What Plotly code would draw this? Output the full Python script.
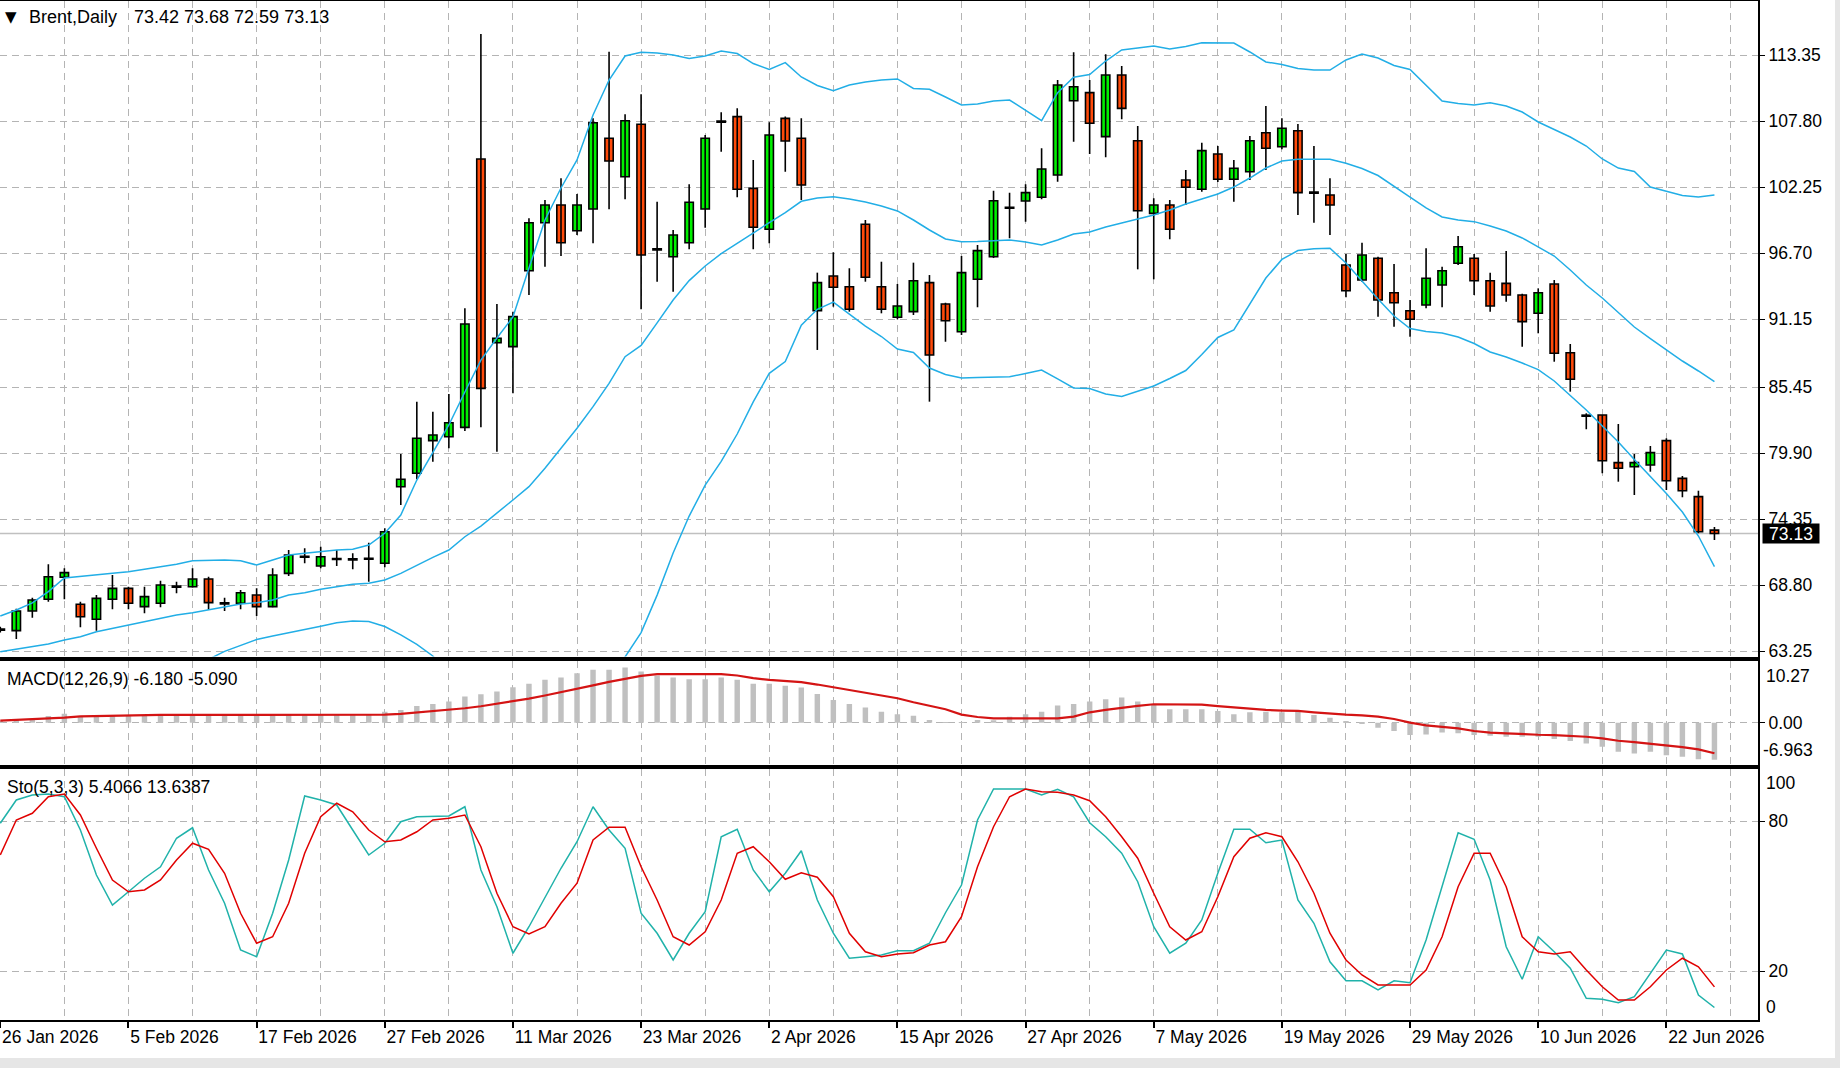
import plotly.graph_objects as go
import numpy as np

# ---------------- data ----------------
OPEN = [65.10, 64.96, 66.61, 67.60, 69.45, 67.18, 65.92, 67.60, 68.52, 66.98,
        67.26, 68.66, 68.66, 69.31, 67.26, 67.26, 67.96, 66.98, 69.78, 71.18,
        70.40, 70.99, 70.96, 71.01, 70.63, 77.07, 78.20, 80.94, 81.27, 82.06,
        104.63, 89.18, 88.85, 95.23, 99.27, 100.76, 98.60, 100.42, 106.37, 103.14,
        107.55, 97.03, 96.41, 97.59, 100.42, 107.77, 108.19, 102.16, 98.72, 108.05,
        106.37, 91.87, 94.79, 93.89, 99.14, 93.89, 91.32, 91.79, 94.23, 92.43,
        90.10, 94.51, 96.41, 100.53, 101.10, 101.41, 103.28, 109.53, 110.21, 106.51,
        111.69, 106.17, 100.06, 100.76, 102.86, 102.08, 105.05, 102.92, 103.56, 106.84,
        105.66, 107.01, 101.80, 101.60, 95.71, 94.45, 96.28, 93.38, 91.87, 92.35,
        94.03, 95.86, 96.28, 94.39, 94.17, 93.19, 91.65, 94.12, 88.34, 83.04,
        83.10, 79.09, 78.75, 78.89, 80.94, 77.77, 76.23, 73.42]
HIGH = [65.30, 66.80, 67.73, 70.54, 70.20, 67.40, 67.96, 69.64, 68.66, 68.66,
        69.16, 69.08, 70.20, 69.50, 67.73, 68.38, 68.52, 70.20, 71.74, 71.89,
        72.02, 71.74, 71.47, 72.36, 73.57, 79.82, 84.22, 83.38, 84.86, 92.07,
        115.14, 92.43, 91.79, 99.64, 101.18, 103.01, 101.69, 108.05, 113.65, 108.39,
        110.07, 101.04, 98.66, 102.50, 106.65, 108.56, 108.89, 104.55, 107.72, 108.20,
        108.05, 95.07, 96.78, 95.44, 99.50, 95.99, 94.12, 95.91, 94.87, 92.54,
        96.47, 97.40, 101.96, 101.80, 102.50, 105.53, 111.27, 113.60, 111.27, 113.44,
        112.45, 107.40, 101.32, 101.18, 103.70, 106.00, 105.72, 104.55, 106.56, 109.09,
        108.05, 107.57, 105.72, 103.00, 96.64, 97.59, 96.40, 95.80, 92.77, 97.12,
        95.57, 98.15, 96.64, 95.07, 96.90, 93.30, 93.75, 94.45, 89.07, 83.24,
        83.10, 82.34, 79.82, 80.49, 81.14, 77.97, 76.73, 73.68]
LOW = [64.80, 64.26, 66.05, 67.40, 67.60, 65.24, 64.96, 66.76, 66.76, 66.42,
       66.93, 68.10, 68.60, 66.70, 66.61, 66.76, 66.19, 66.93, 69.56, 70.63,
       70.20, 70.40, 70.12, 69.08, 70.29, 75.53, 77.69, 79.17, 80.30, 81.75,
       82.06, 80.01, 84.92, 93.19, 95.57, 96.47, 98.24, 97.54, 100.40, 101.24,
       91.99, 94.31, 93.47, 97.03, 98.85, 105.24, 101.41, 97.03, 97.54, 103.56,
       101.18, 88.57, 92.21, 91.79, 94.31, 91.65, 91.15, 91.51, 84.22, 89.26,
       89.83, 92.16, 96.30, 97.96, 99.36, 101.24, 102.72, 106.08, 105.05, 104.77,
       107.97, 95.35, 94.51, 97.88, 100.76, 101.88, 102.70, 101.04, 102.86, 103.70,
       105.44, 99.92, 99.27, 98.24, 93.00, 94.30, 91.37, 90.53, 89.68, 92.07,
       92.16, 95.71, 93.19, 91.79, 92.63, 88.84, 89.97, 87.58, 85.06, 81.90,
       78.20, 77.49, 76.37, 78.33, 76.79, 76.18, 73.15, 72.59]
CLOSE = [65.00, 66.61, 67.54, 69.50, 69.84, 66.13, 67.68, 68.52, 67.26, 67.82,
         68.80, 68.66, 69.31, 67.32, 67.26, 68.15, 66.98, 69.64, 71.32, 71.18,
         71.18, 70.99, 70.96, 71.01, 73.28, 77.69, 81.14, 81.42, 82.45, 90.75,
         85.34, 89.55, 91.37, 99.27, 100.76, 97.59, 100.76, 107.68, 104.46, 107.85,
         96.56, 97.03, 98.24, 100.99, 106.37, 107.77, 102.08, 98.89, 106.65, 106.14,
         102.44, 94.23, 93.84, 91.99, 94.68, 91.99, 92.27, 94.39, 88.15, 91.03,
         95.07, 96.92, 101.12, 100.53, 101.80, 103.79, 110.85, 110.71, 107.63, 111.69,
         108.89, 100.28, 100.76, 98.72, 102.25, 105.33, 102.92, 103.85, 106.17, 105.53,
         107.21, 101.80, 101.80, 100.76, 93.55, 96.56, 92.77, 92.54, 91.15, 94.60,
         95.23, 97.25, 94.39, 92.27, 93.19, 90.95, 93.38, 88.29, 86.10, 83.04,
         79.25, 78.62, 79.09, 79.93, 77.57, 76.73, 73.28, 73.13]

BB_UPPER = [66.19, 66.70, 67.29, 68.24, 69.39, 69.50, 69.64, 69.78, 69.92, 70.12,
            70.34, 70.54, 70.84, 70.90, 70.90, 70.84, 70.48, 70.90, 71.32, 71.47,
            71.60, 71.74, 71.80, 72.16, 73.15, 74.69, 77.63, 79.90, 82.26, 85.03,
            87.72, 89.57, 91.34, 95.46, 99.50, 102.19, 104.55, 108.33, 111.27, 113.29,
            113.60, 113.54, 113.38, 113.08, 113.29, 113.71, 113.50, 112.66, 112.17, 112.73,
            111.53, 110.81, 110.37, 110.85, 111.10, 111.27, 111.36, 110.56, 110.49, 109.84,
            109.17, 109.25, 109.51, 109.59, 108.75, 107.85, 110.21, 111.50, 111.74, 112.87,
            113.80, 113.96, 114.13, 113.88, 114.09, 114.41, 114.41, 114.38, 113.63, 112.79,
            112.58, 112.24, 112.11, 112.11, 112.96, 113.46, 113.12, 112.49, 112.16, 110.85,
            109.51, 109.30, 109.17, 109.36, 109.09, 108.58, 107.74, 107.11, 106.48, 105.72,
            104.63, 103.87, 103.58, 102.27, 101.94, 101.56, 101.43, 101.60]
BB_MIDDLE = [63.19, 63.39, 63.61, 63.84, 64.18, 64.45, 64.87, 65.16, 65.44, 65.71,
             66.00, 66.28, 66.47, 66.70, 66.93, 67.20, 67.31, 67.54, 67.96, 68.15,
             68.44, 68.66, 68.86, 68.94, 69.22, 69.78, 70.48, 71.13, 71.74, 72.86,
             73.76, 74.83, 75.95, 77.07, 78.62, 80.30, 81.98, 83.80, 85.76, 88.00,
             88.95, 90.85, 92.77, 94.40, 95.63, 96.67, 97.55, 98.41, 99.27, 100.11,
             101.07, 101.35, 101.46, 101.27, 101.01, 100.68, 100.26, 99.50, 98.66, 97.90,
             97.67, 97.69, 97.73, 97.82, 97.65, 97.40, 97.82, 98.32, 98.49, 98.91,
             99.25, 99.58, 99.92, 100.34, 100.85, 101.27, 101.69, 102.27, 103.03, 103.87,
             104.46, 104.60, 104.60, 104.60, 104.27, 103.83, 103.24, 102.36, 101.43, 100.51,
             99.75, 99.50, 99.36, 99.00, 98.57, 97.99, 97.25, 96.47, 95.29, 94.03,
             92.94, 91.68, 90.50, 89.53, 88.57, 87.64, 86.80, 85.90]
BB_LOWER = [60.19, 60.08, 59.93, 59.44, 58.97, 59.40, 60.10, 60.54, 60.96, 61.30,
            61.66, 62.02, 62.10, 62.55, 63.22, 63.73, 64.21, 64.51, 64.77, 65.06,
            65.33, 65.62, 65.77, 65.73, 65.31, 64.60, 63.80, 62.83, 61.22, 60.69,
            59.80, 60.09, 60.56, 58.68, 57.74, 58.41, 59.41, 59.27, 60.25, 62.75,
            64.80, 67.95, 71.50, 74.60, 77.20, 79.20, 81.50, 84.20, 86.60, 87.60,
            90.65, 91.99, 92.60, 91.59, 90.58, 89.70, 88.65, 88.36, 87.05, 86.50,
            86.21, 86.25, 86.29, 86.32, 86.59, 86.88, 86.13, 85.37, 85.33, 84.87,
            84.65, 85.07, 85.54, 86.17, 86.84, 88.19, 89.62, 90.25, 92.43, 94.62,
            96.18, 96.93, 97.08, 97.12, 95.88, 94.33, 92.85, 91.42, 90.37, 90.12,
            89.99, 89.66, 89.11, 88.40, 87.98, 87.47, 86.91, 85.96, 84.70, 83.52,
            82.17, 80.83, 79.36, 77.93, 76.50, 74.94, 72.92, 70.34]

MACD_MAIN = [0.33, 0.56, 0.67, 1.11, 1.50, 1.11, 1.06, 1.17, 1.11, 1.11,
             1.17, 1.17, 1.28, 1.17, 1.11, 1.17, 1.11, 1.28, 1.39, 1.39,
             1.39, 1.34, 1.28, 1.34, 1.84, 2.12, 2.79, 3.12, 3.51, 4.35,
             4.74, 5.18, 5.91, 6.47, 7.13, 7.53, 8.25, 8.81, 8.81, 9.20,
             8.53, 7.86, 7.53, 7.25, 7.25, 7.53, 7.13, 6.47, 6.47, 6.13,
             5.85, 4.79, 3.79, 3.12, 2.51, 1.84, 1.39, 1.17, 0.45, 0.02,
             -0.05, 0.45, 0.40, 1.00, 1.39, 1.84, 2.84, 3.12, 3.51, 3.90,
             4.18, 3.51, 3.12, 2.23, 2.23, 2.23, 1.95, 1.39, 1.73, 1.84,
             1.73, 1.95, 1.28, 0.84, 0.28, -0.11, -0.84, -1.39, -2.06, -1.95,
             -1.62, -1.78, -2.06, -2.17, -2.34, -2.34, -2.34, -2.73, -3.07, -3.46,
             -4.01, -4.85, -5.13, -4.85, -5.41, -5.69, -6.08, -6.180]
MACD_SIGNAL = [0.33, 0.45, 0.56, 0.67, 0.84, 1.06, 1.11, 1.23, 1.28, 1.28,
               1.29, 1.30, 1.30, 1.31, 1.30, 1.30, 1.30, 1.31, 1.31, 1.30,
               1.30, 1.31, 1.30, 1.30, 1.34, 1.45, 1.67, 1.84, 2.12, 2.40,
               2.73, 3.12, 3.51, 4.01, 4.52, 5.07, 5.57, 6.20, 6.80, 7.30,
               7.80, 8.08, 8.08, 8.08, 8.08, 8.08, 7.86, 7.41, 7.13, 6.97,
               6.74, 6.35, 5.91, 5.52, 5.07, 4.63, 4.07, 3.40, 2.84, 2.23,
               1.34, 0.95, 0.72, 0.72, 0.72, 0.72, 0.72, 1.00, 1.73, 2.12,
               2.51, 2.79, 3.07, 3.07, 3.07, 3.00, 2.75, 2.51, 2.29, 2.12,
               2.01, 1.95, 1.73, 1.51, 1.34, 1.23, 1.00, 0.61, 0.00, -0.45,
               -0.72, -0.95, -1.39, -1.67, -1.78, -1.95, -2.01, -2.06, -2.17, -2.34,
               -2.62, -3.01, -3.23, -3.51, -3.73, -4.07, -4.45, -5.090]

STO_K = [79.1, 88.4, 90.4, 90.8, 89.7, 76.4, 58.4, 46.4, 51.7, 57.1,
         61.7, 73.1, 77.3, 60.4, 47.1, 28.4, 25.7, 43.1, 64.4, 90.0,
         88.4, 86.4, 76.4, 66.4, 71.1, 79.7, 81.7, 81.7, 82.0, 85.7,
         60.4, 45.7, 27.1, 37.7, 49.7, 61.1, 71.7, 85.7, 76.4, 69.1,
         43.1, 35.1, 24.4, 35.1, 43.7, 73.7, 76.7, 60.4, 51.7, 59.1,
         68.1, 48.4, 35.1, 25.1, 25.7, 26.4, 28.1, 28.1, 31.1, 43.3,
         54.4, 80.4, 92.8, 92.8, 92.8, 90.4, 92.7, 89.7, 79.3, 73.7,
         67.1, 55.7, 37.7, 27.1, 31.1, 40.4, 59.1, 76.7, 76.7, 71.3,
         72.4, 48.4, 39.1, 23.7, 16.1, 16.1, 12.4, 16.1, 15.3, 32.4,
         53.7, 75.3, 72.7, 56.4, 29.7, 16.7, 33.7, 27.7, 21.1, 9.1,
         8.7, 7.3, 9.7, 19.1, 28.4, 26.8, 10.4, 5.4066]
STO_D = [66.4, 80.4, 83.1, 89.7, 90.8, 82.4, 69.1, 56.4, 51.7, 52.4,
         56.4, 64.4, 71.1, 68.7, 59.1, 43.1, 31.1, 33.7, 47.1, 67.1,
         81.7, 87.1, 83.7, 76.4, 71.7, 72.4, 75.7, 80.4, 81.1, 82.4,
         69.7, 51.1, 37.7, 34.8, 37.7, 47.1, 55.1, 72.4, 77.5, 77.5,
         61.7, 48.4, 33.7, 30.4, 35.7, 48.4, 67.1, 69.7, 63.7, 56.7,
         59.3, 57.5, 49.7, 35.1, 27.7, 25.7, 26.8, 27.3, 30.4, 31.7,
         41.7, 61.7, 77.7, 89.7, 92.8, 91.7, 91.5, 90.4, 88.1, 81.7,
         73.7, 65.1, 51.1, 37.7, 32.4, 35.7, 49.7, 65.7, 73.1, 75.3,
         73.7, 63.7, 51.1, 35.1, 24.4, 18.4, 14.4, 14.4, 14.4, 20.4,
         33.7, 53.7, 67.1, 67.1, 53.7, 33.7, 27.7, 26.8, 27.7, 20.4,
         13.7, 8.4, 8.4, 13.7, 20.4, 25.1, 21.7, 13.6387]

DATE_LABELS = ["26 Jan 2026", "5 Feb 2026", "17 Feb 2026", "27 Feb 2026", "11 Mar 2026",
               "23 Mar 2026", "2 Apr 2026", "15 Apr 2026", "27 Apr 2026", "7 May 2026",
               "19 May 2026", "29 May 2026", "10 Jun 2026", "22 Jun 2026"]
BARS_PER_LABEL = 8
PRICE_TICKS = [63.25, 68.80, 74.35, 79.90, 85.45, 91.15, 96.70, 102.25, 107.80, 113.35]
MACD_RANGE = [-6.963, 10.27]
STO_LEVELS = [20, 80]
SYMBOL = "Brent,Daily"

# ---------------- layout geometry ----------------
W, H = 1840, 1068
ML, MR, MT, MB = 0, 82, 1, 48
PW, PH = W - ML - MR, H - MT - MB


def pxx(px):
    return (px - ML) / PW


def pxy(py):
    return (H - MB - py) / PH


FONT = "Liberation Sans, Arial, sans-serif"
FS = 17.5
GRID = "#b4b4b4"
DASH = "7px,5px"
BB_COLOR = "#22aee6"

n = len(CLOSE)
idx = np.arange(n)
o = np.array(OPEN); h = np.array(HIGH); l = np.array(LOW); c = np.array(CLOSE)

fig = go.Figure()

# wicks
wx, wy = [], []
for i in range(n):
    wx += [i, i, None]
    wy += [l[i], h[i], None]
fig.add_trace(go.Scatter(x=wx, y=wy, mode="lines", line=dict(color="black", width=1.6),
                         hoverinfo="skip", showlegend=False, xaxis="x", yaxis="y"))

# bodies
body = np.abs(c - o)
min_body = 0.09
body_h = np.maximum(body, min_body)
base = np.minimum(o, c) - (body_h - body) / 2
colors = ["#00f000" if c[i] > o[i] else ("#ff4a0a" if c[i] < o[i] else "black") for i in range(n)]
fig.add_trace(go.Bar(x=idx, y=body_h, base=base, width=0.52,
                     marker=dict(color=colors, line=dict(color="black", width=1.6)),
                     hoverinfo="skip", showlegend=False, xaxis="x", yaxis="y"))

# Bollinger bands
for band in (BB_UPPER, BB_MIDDLE, BB_LOWER):
    fig.add_trace(go.Scatter(x=idx, y=band, mode="lines", line=dict(color=BB_COLOR, width=1.5),
                             hoverinfo="skip", showlegend=False, xaxis="x", yaxis="y"))

# MACD
fig.add_trace(go.Bar(x=idx, y=MACD_MAIN, width=0.34, marker=dict(color="#c0c0c0", line=dict(width=0)),
                     hoverinfo="skip", showlegend=False, xaxis="x2", yaxis="y2"))
fig.add_trace(go.Scatter(x=idx, y=MACD_SIGNAL, mode="lines", line=dict(color="#d41414", width=2.2),
                         hoverinfo="skip", showlegend=False, xaxis="x2", yaxis="y2"))

# Stochastic
fig.add_trace(go.Scatter(x=idx, y=STO_K, mode="lines", line=dict(color="#20b2aa", width=1.5),
                         hoverinfo="skip", showlegend=False, xaxis="x3", yaxis="y3"))
fig.add_trace(go.Scatter(x=idx, y=STO_D, mode="lines", line=dict(color="#e00000", width=1.5),
                         hoverinfo="skip", showlegend=False, xaxis="x3", yaxis="y3"))

# x axes
bar_px = 16.02
x0_px = 0.3
xr = [(0 - x0_px) / bar_px, (PW - x0_px) / bar_px]
tickpos = list(range(0, BARS_PER_LABEL * len(DATE_LABELS), BARS_PER_LABEL))
common_x = dict(range=xr, showgrid=True, gridcolor=GRID, griddash=DASH, gridwidth=1,
                zeroline=False, showline=True, mirror=True, linecolor="black", linewidth=2,
                tickmode="array", tickvals=tickpos,
                minor=dict(tick0=0, dtick=BARS_PER_LABEL // 2, showgrid=True, gridcolor=GRID,
                           griddash=DASH, gridwidth=1, ticks=""))
fig.update_layout(
    xaxis=dict(common_x, anchor="y", domain=[0, 1], showticklabels=False, ticks=""),
    xaxis2=dict(common_x, anchor="y2", domain=[0, 1], matches="x", showticklabels=False, ticks=""),
    xaxis3=dict(common_x, anchor="y3", domain=[0, 1], matches="x", ticktext=DATE_LABELS,
                ticks="outside", ticklen=6, tickcolor="black", tickwidth=1.5,
                ticklabelposition="outside right",
                tickfont=dict(family=FONT, size=FS, color="black")),
)

ymain = [63.25 - 5.5 / 11.89, 63.25 + 650 / 11.89]
fig.update_layout(
    yaxis=dict(domain=[pxy(656.5), pxy(1)], anchor="x", side="right", range=ymain,
               tickmode="array", tickvals=PRICE_TICKS, ticktext=[f"{v:.2f}" for v in PRICE_TICKS],
               showgrid=True, gridcolor=GRID, griddash=DASH, zeroline=False,
               showline=True, linecolor="black", linewidth=2, mirror=False,
               ticks="outside", ticklen=5, tickcolor="black",
               tickfont=dict(family=FONT, size=FS, color="black")),
    yaxis2=dict(domain=[pxy(764.5), pxy(661)], anchor="x2", side="right", range=MACD_RANGE,
                tickmode="array", tickvals=[0], ticktext=["0.00"],
                showgrid=True, gridcolor=GRID, griddash=DASH, zeroline=False,
                showline=True, linecolor="black", linewidth=2,
                ticks="outside", ticklen=5, tickcolor="black",
                tickfont=dict(family=FONT, size=FS, color="black")),
    yaxis3=dict(domain=[pxy(1020), pxy(769)], anchor="x3", side="right", range=[0.4, 100.8],
                tickmode="array", tickvals=STO_LEVELS, ticktext=[str(v) for v in STO_LEVELS],
                showgrid=True, gridcolor=GRID, griddash=DASH, zeroline=False,
                showline=True, linecolor="black", linewidth=2,
                ticks="outside", ticklen=5, tickcolor="black",
                tickfont=dict(family=FONT, size=FS, color="black")),
)

annots = []


def txt(text, xpx, ypx, size=FS, **kw):
    d = dict(text=text, xref="paper", yref="paper", x=pxx(xpx), y=pxy(ypx), xanchor="left",
             yanchor="middle", showarrow=False, font=dict(family=FONT, size=size, color="black"))
    d.update(kw)
    annots.append(d)


txt("▼", 3, 17, size=17, font=dict(family="DejaVu Sans", size=15, color="black"))
txt(SYMBOL, 27, 17, size=18)
txt(f"{OPEN[-1]:.2f} {HIGH[-1]:.2f} {LOW[-1]:.2f} {CLOSE[-1]:.2f}", 132, 17, size=18)
txt(f"MACD(12,26,9) {MACD_MAIN[-1]:.3f} {MACD_SIGNAL[-1]:.3f}", 5, 679)
txt(f"Sto(5,3,3) {STO_K[-1]:.4f} {STO_D[-1]:.4f}", 5, 787)
txt(f"{MACD_RANGE[1]:.2f}", 1764, 675.5)
txt(f"{MACD_RANGE[0]:.3f}", 1761, 750)
txt("100", 1764, 783)
txt("0", 1764, 1007)

# current price box
annots.append(dict(text=f"{CLOSE[-1]:.2f}", xref="paper", yref="y", x=pxx(1762), y=CLOSE[-1],
                   xanchor="left", yanchor="middle", showarrow=False, bgcolor="black",
                   width=56, height=19, borderpad=0,
                   font=dict(family=FONT, size=FS, color="white")))

shapes = [
    dict(type="line", xref="paper", yref="y", x0=0, x1=1, y0=CLOSE[-1], y1=CLOSE[-1],
         line=dict(color="#c0c0c0", width=1.5), layer="below"),
    dict(type="rect", xref="paper", yref="paper", x0=pxx(1835), x1=pxx(1841), y0=pxy(1069), y1=pxy(-1),
         fillcolor="#e6e6e6", line=dict(width=0), layer="above"),
    dict(type="rect", xref="paper", yref="paper", x0=pxx(-1), x1=pxx(1841), y0=pxy(1069), y1=pxy(1058),
         fillcolor="#e6e6e6", line=dict(width=0), layer="above"),
]

fig.update_layout(width=W, height=H, margin=dict(l=ML, r=MR, t=MT, b=MB),
                  paper_bgcolor="white", plot_bgcolor="white", barmode="overlay",
                  showlegend=False, annotations=annots, shapes=shapes,
                  font=dict(family=FONT, size=FS, color="black"))

fig.write_html("out.html", config={"displayModeBar": False})
